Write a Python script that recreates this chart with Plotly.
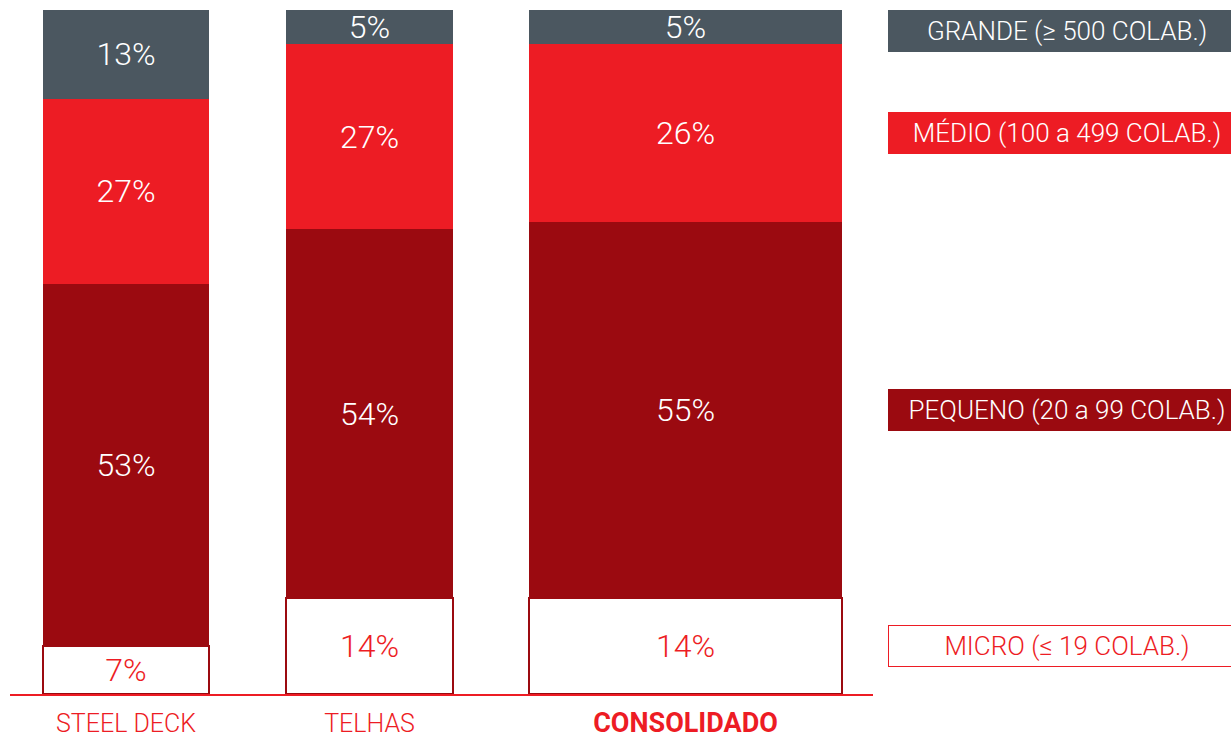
import plotly.graph_objects as go

# categories (bottom -> top stacking) and values in %
bar_labels = ["STEEL DECK", "TELHAS", "CONSOLIDADO"]
sizes = ["MICRO", "PEQUENO", "MÉDIO", "GRANDE"]
legend_texts = ["MICRO (≤ 19 COLAB.)", "PEQUENO (20 a 99 COLAB.)",
                "MÉDIO (100 a 499 COLAB.)", "GRANDE (≥ 500 COLAB.)"]
micro = [7, 14, 14]
pequeno = [53, 54, 55]
medio = [27, 27, 26]
grande = [13, 5, 5]

# layout: x axis in pixel-like units so bars can have different widths
x_pos = [116, 359.5, 675.5]
widths = [166, 167, 313]

RED = "#ED1C24"
DARK_RED = "#9B0A10"
GRAY = "#4B5760"
FONT = "Roboto"

series = [micro, pequeno, medio, grande]
fills = ["white", DARK_RED, RED, GRAY]
text_cols = [RED, "white", "white", "white"]
line_w = [2.5, 0, 0, 0]

fig = go.Figure()
for name, vals, fc, tc, lw in zip(sizes, series, fills, text_cols, line_w):
    fig.add_trace(go.Bar(
        x=x_pos, y=vals, width=widths, name=name,
        marker=dict(color=fc, line=dict(color=DARK_RED, width=lw)),
        text=[f"{v}%" for v in vals],
        textposition="inside", insidetextanchor="middle", textangle=0,
        textfont=dict(color=tc, size=32, family=FONT, weight=300),
        hoverinfo="skip",
    ))

# legend boxes aligned to the segments of the consolidated bar
box_h_units = 42 / 6.84
cum = 0
mids = []
for vals in series:
    v = vals[-1]
    mids.append(min(cum + v / 2, 100 - box_h_units / 2))
    cum += v

for txt, mid, fc in zip(legend_texts, mids, fills):
    is_micro = fc == "white"
    fig.add_annotation(
        xref="paper", yref="y", x=(888 - 10) / 863, y=mid,
        xanchor="left", yanchor="middle", showarrow=False,
        text=txt, width=356, height=40, align="center", valign="middle",
        bgcolor=fc, bordercolor=RED if is_micro else fc, borderwidth=1, borderpad=0,
        font=dict(color=RED if is_micro else "white", size=26, family=FONT, weight=300),
    )

tick_text = [f"<b><span style='font-size:27px'>{t}</span></b>" if t == "CONSOLIDADO" else t
             for t in bar_labels]

fig.update_layout(
    barmode="stack",
    width=1231, height=738,
    margin=dict(l=10, r=358, t=10, b=44),
    paper_bgcolor="white", plot_bgcolor="white",
    showlegend=False,
    uniformtext=dict(minsize=32, mode="show"),
    xaxis=dict(range=[0, 863], tickvals=x_pos, ticktext=tick_text,
               showgrid=False, zeroline=False, ticks="", automargin=False,
               showline=True, linecolor=RED, linewidth=1.5,
               ticklabelstandoff=6,
               tickfont=dict(color=RED, size=25, family=FONT, weight=300)),
    yaxis=dict(range=[0, 100], visible=False, showgrid=False, zeroline=False),
)

# drop the default page margin so the figure fills the window exactly
fig.write_html("out.html", config={"displayModeBar": False},
               post_script="document.body.style.margin='0';document.body.style.overflow='hidden';")
